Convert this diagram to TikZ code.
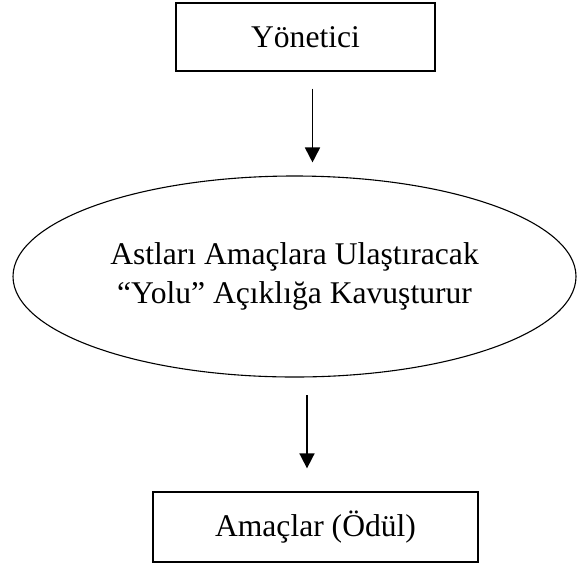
\documentclass[tikz,border=0pt]{standalone}
\usepackage{fontspec}
\setmainfont{Liberation Serif}
\usepackage{tikz}
\usetikzlibrary{shapes.geometric,arrows.meta,positioning}

\begin{document}
\begin{tikzpicture}[
    x=1pt, y=-1pt,
    >={Triangle[width=15pt,length=15pt]},
    every node/.style={font=\fontsize{31.6}{39}\selectfont, inner sep=0pt},
    kutu/.style={draw, line width=1.3pt, rectangle},
    elips/.style={draw, line width=1.1pt, ellipse},
    ok/.style={->, line width=1.7pt}
]
    \useasboundingbox (0,0) rectangle (577,568);

    % Nodes - boxes top and bottom, ellipse in between
    \node[kutu, minimum width=259pt, minimum height=68pt] (yonetici) at (305.5,37) {Yönetici};
    \node[elips, minimum width=563pt, minimum height=201pt] (yol) at (294.5,276.5)
        {\raisebox{-11pt}{\begin{tabular}{@{}c@{}}Astları Amaçlara Ulaştıracak\\“Yolu” Açıklığa Kavuşturur\end{tabular}}};
    \node[kutu, minimum width=325pt, minimum height=70pt] (amaclar) at (315.5,527) {Amaçlar (Ödül)};

    % Arrows - they stop short of the shapes
    \draw[ok, shorten <=17pt, shorten >=13pt]
        ([xshift=7pt]yonetici.south) -- ([xshift=18pt]yol.north);
    \draw[ok, shorten <=17.5pt, shorten >=23pt]
        ([xshift=12.5pt]yol.south) -- ([xshift=-8.5pt]amaclar.north);

\end{tikzpicture}
\end{document}
